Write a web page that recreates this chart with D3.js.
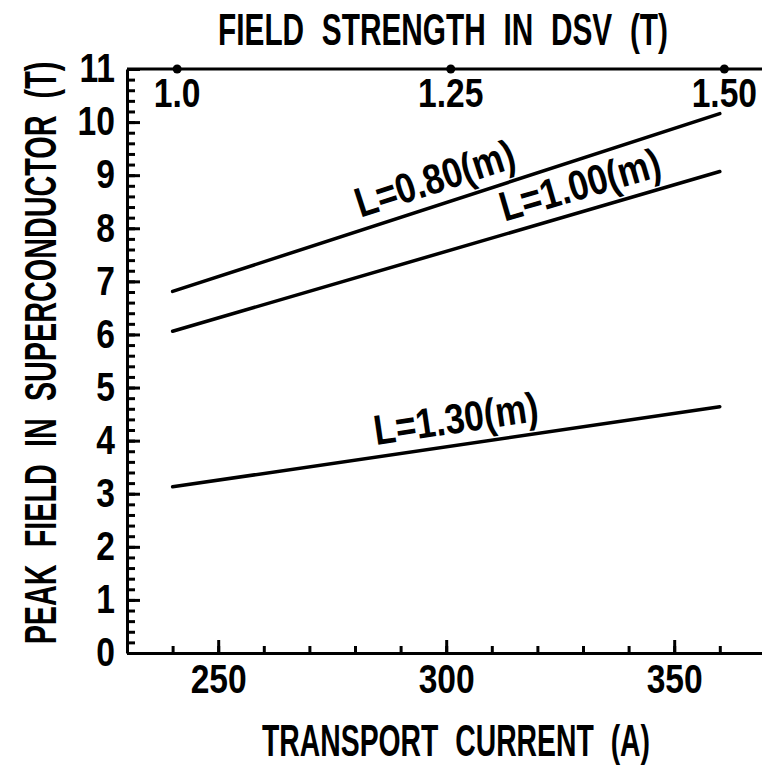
<!DOCTYPE html>
<meta charset="utf-8">
<style>
  body { margin: 0; background: #fff; }
  svg { display: block; }
  text { font-family: "Liberation Sans", Arial, sans-serif; font-weight: bold; fill: #000; }
  .axis path, .axis line { stroke: #000; stroke-width: 3px; }
  .data { fill: none; stroke: #000; stroke-width: 3.5px; stroke-linecap: round; }
</style>
<body>
<div id="chart"></div>
<script src="https://cdn.jsdelivr.net/npm/d3@7"></script>
<script>
// transport current (A) at the ends of each curve
var currents = [240, 360];
// peak field in superconductor (T), one array per coil length
var peakL080 = [6.81, 10.16];
var peakL100 = [6.06, 9.07];
var peakL130 = [3.13, 4.64];
var seriesNames = ["L=0.80(m)", "L=1.00(m)", "L=1.30(m)"];
// current where each label starts
var labelCurrent = [282, 313.5, 285];

var xMajor = [250, 300, 350];
var xMinor = d3.range(240, 371, 10);
var yMajor = d3.range(0, 12, 1);
var yMinor = d3.range(0, 11.01, 0.2);
// top axis: field strength in DSV (T) and the current it corresponds to
var topTicks = [1.0, 1.25, 1.50];
var topLabels = ["1.0", "1.25", "1.50"];
var topCurrent = [241, 301, 361];

var width = 762, height = 767;
var squeeze = 0.84;

var x = d3.scaleLinear().domain([230, 370]).range([127, 765.4]);
var y = d3.scaleLinear().domain([0, 11]).range([653, 69]);
var xTop = d3.scaleLinear().domain(topTicks).range(topCurrent.map(x));

// narrow the glyphs, the original lettering is condensed
function narrow(sel, k) {
    sel.each(function () {
        var w = this.getComputedTextLength();
        d3.select(this).attr("textLength", w * (k || squeeze)).attr("lengthAdjust", "spacingAndGlyphs");
    });
}

var svg = d3.select("#chart").append("svg")
    .attr("width", width)
    .attr("height", height);

svg.append("rect").attr("width", width).attr("height", height).attr("fill", "#fff");

// left axis, ticks pointing inward
svg.append("g").attr("class", "axis")
    .attr("transform", "translate(" + x.range()[0] + ",0)")
    .call(d3.axisLeft(y).tickValues(yMinor).tickSize(-8).tickSizeOuter(0).tickFormat(""));
svg.append("g").attr("class", "axis")
    .attr("transform", "translate(" + x.range()[0] + ",0)")
    .call(d3.axisLeft(y).tickValues(yMajor).tickSize(-13).tickSizeOuter(0).tickPadding(12).tickFormat(d3.format("d")))
    .call(function (g) {
        g.select(".domain").remove();
        g.selectAll("text").attr("font-size", 40).style("font-family", null).call(narrow);
    });

// bottom axis
svg.append("g").attr("class", "axis")
    .attr("transform", "translate(0," + y.range()[0] + ")")
    .call(d3.axisBottom(x).tickValues(xMinor).tickSize(-7).tickSizeOuter(0).tickFormat(""));
svg.append("g").attr("class", "axis")
    .attr("transform", "translate(0," + y.range()[0] + ")")
    .call(d3.axisBottom(x).tickValues(xMajor).tickSize(-13).tickSizeOuter(0).tickPadding(12).tickFormat(d3.format("d")))
    .call(function (g) {
        g.select(".domain").remove();
        g.selectAll("text").attr("font-size", 40).style("font-family", null).call(narrow);
    });

// top axis: plain line with dots
svg.append("line")
    .attr("x1", x.range()[0]).attr("x2", width)
    .attr("y1", y.range()[1]).attr("y2", y.range()[1])
    .attr("stroke", "#000").attr("stroke-width", 3);
svg.selectAll(".topdot").data(topTicks).enter().append("circle")
    .attr("cx", function (d) { return xTop(d); })
    .attr("cy", y.range()[1])
    .attr("r", 4.5);
svg.selectAll(".toplabel").data(topTicks).enter().append("text")
    .attr("x", function (d) { return xTop(d); })
    .attr("y", y.range()[1] + 38)
    .attr("text-anchor", "middle")
    .attr("font-size", 40)
    .text(function (d, i) { return topLabels[i]; })
    .call(narrow);

// curves
var series = [peakL080, peakL100, peakL130];
var line = d3.line()
    .x(function (d, i) { return x(currents[i]); })
    .y(function (d) { return y(d); });
svg.selectAll(".data").data(series).enter().append("path")
    .attr("class", "data")
    .attr("d", line);

// labels along the curves
series.forEach(function (s, i) {
    var slope = (s[1] - s[0]) / (currents[1] - currents[0]);
    var c = labelCurrent[i];
    var px = x(c), py = y(s[0] + slope * (c - currents[0]));
    var ang = Math.atan2(y(s[1]) - y(s[0]), x(currents[1]) - x(currents[0])) * 180 / Math.PI;
    svg.append("text")
        .attr("transform", "translate(" + px + "," + py + ") rotate(" + ang + ") translate(0,-12)")
        .attr("font-size", 42)
        .text(seriesNames[i])
        .call(narrow);
});

// axis titles: condensed lettering with wide word gaps
function title(cx, cy, rot, len, str) {
    var g = svg.append("g");
    var t = g.append("text")
        .attr("text-anchor", "middle")
        .attr("font-size", 44)
        .style("word-spacing", "14px")
        .text(str);
    var k = len / t.node().getBBox().width;
    g.attr("transform", "translate(" + cx + "," + cy + ") rotate(" + rot + ") scale(" + k + ",1)");
}
title(443, 45, 0, 450, "FIELD STRENGTH IN DSV (T)");
title(456, 756, 0, 388, "TRANSPORT CURRENT (A)");
title(56, 353, -90, 583, "PEAK FIELD IN SUPERCONDUCTOR (T)");
</script>
</body>
